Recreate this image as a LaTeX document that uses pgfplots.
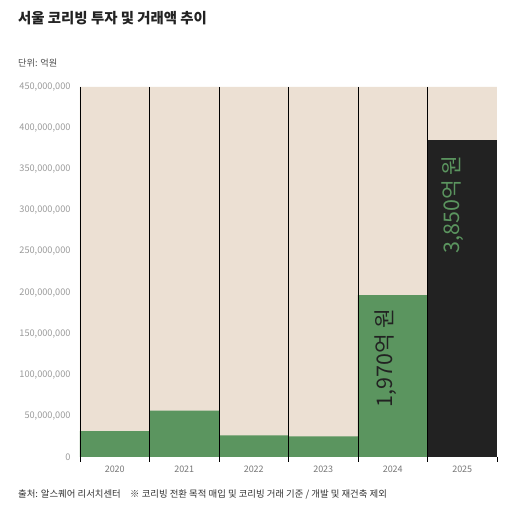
\documentclass[border=0pt]{standalone}
\usepackage{fontspec}
\setmainfont{Noto Sans CJK KR}
\usepackage{pgfplots}
\pgfplotsset{compat=1.18}
\definecolor{beige}{HTML}{ECE0D3}
\definecolor{barg}{HTML}{5B955F}
\definecolor{bardark}{HTML}{222222}
\definecolor{tickgray}{HTML}{9A9A9A}
\definecolor{yeargray}{HTML}{777777}
\definecolor{txtdark}{HTML}{222222}
\begin{document}
\begin{tikzpicture}[x=1pt,y=1pt]
\path[use as bounding box, fill=white] (0,0) rectangle (512,512);
\node[anchor=base west, inner sep=0, font=\fontsize{14.4}{16}\selectfont\bfseries, text=txtdark] at (18,488) {서울 코리빙 투자 및 거래액 추이};
\node[anchor=base west, inner sep=0, font=\fontsize{9.2}{11}\selectfont, text=black!70] at (18,445) {단위: 억원};
\node[anchor=base west, inner sep=0, font=\fontsize{9.4}{11}\selectfont, text=black!80] at (18,14) {출처: 알스퀘어 리서치센터\quad ※ 코리빙 전환 목적 매입 및 코리빙 거래 기준 / 개발 및 재건축 제외};
\begin{axis}[at={(80pt,55pt)}, anchor=south west, scale only axis,
  width=417pt, height=370pt,
  xmin=-0.5, xmax=5.5, ymin=0, ymax=450,
  axis line style={draw=none}, clip=false,
  major tick length=0pt,
  xtick={0,1,2,3,4,5}, xticklabels={2020,2021,2022,2023,2024,2025},
  ytick={0,50,100,150,200,250,300,350,400,450},
  yticklabels={0,{50,000,000},{100,000,000},{150,000,000},{200,000,000},{250,000,000},{300,000,000},{350,000,000},{400,000,000},{450,000,000}},
  yticklabel style={font=\fontsize{9.2}{10}\selectfont, text=tickgray, xshift=-6pt},
  xticklabel style={font=\fontsize{9}{10}\selectfont, text=yeargray, yshift=-5pt},
  /pgf/number format/assume math mode=true,
]
\addplot[ybar, bar width=1, bar shift=0pt, fill=beige, draw=none] coordinates {(0,450)(1,450)(2,450)(3,450)(4,450)(5,450)};
\addplot[ybar, bar width=1, bar shift=0pt, fill=barg, draw=none] coordinates {(0,31.6)(1,56.3)(2,26.4)(3,25.2)(4,197)};
\addplot[ybar, bar width=1, bar shift=0pt, fill=bardark, draw=none] coordinates {(5,385)};
\foreach \xx in {-0.5,0.5,1.5,2.5,3.5,4.5} {
  \edef\temp{\noexpand\draw[black, line width=0.9pt] (axis cs:\xx,450) -- (axis cs:\xx,-6);}
  \temp
}
\draw[black, line width=0.9pt] (axis cs:5.5,0) -- (axis cs:5.5,-6);
\node[rotate=90, anchor=base east, inner sep=0, font=\fontsize{21.5}{24}\selectfont, text=txtdark] at (axis cs:4.0,180) {1,970억 원};
\node[rotate=90, anchor=base east, inner sep=0, font=\fontsize{21.5}{24}\selectfont, text=barg] at (axis cs:4.96,367) {3,850억 원};
\end{axis}
\end{tikzpicture}
\end{document}
